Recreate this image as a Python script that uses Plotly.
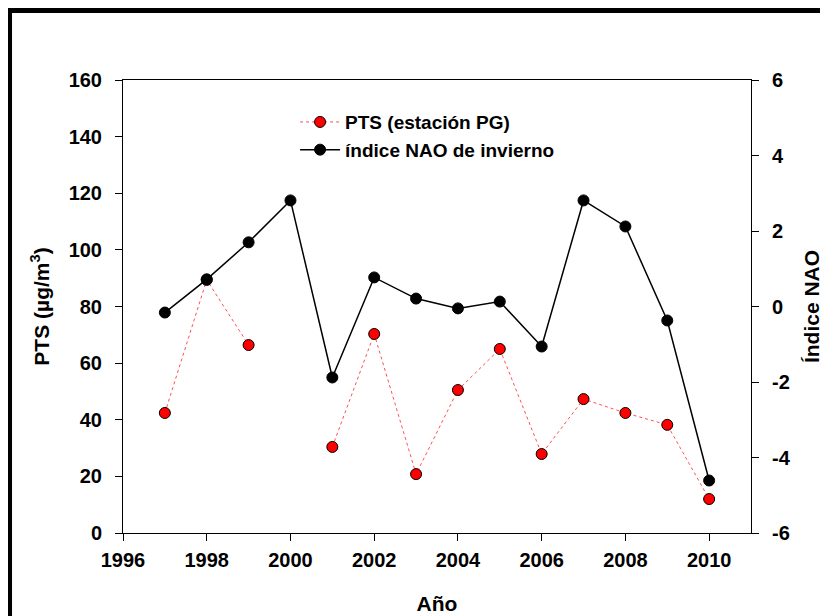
import plotly.graph_objects as go

years = [1997, 1998, 1999, 2000, 2001, 2002, 2003, 2004, 2005, 2006, 2007, 2008, 2009, 2010]
pts_pg = [42.4, 89.4, 66.4, None, 30.4, 70.3, 20.8, 50.5, 65.0, 27.9, 47.3, 42.4, 38.2, 12.0]
nao_winter = [-0.16, 0.72, 1.70, 2.81, -1.88, 0.77, 0.21, -0.05, 0.13, -1.06, 2.81, 2.12, -0.37, -4.61]
nao_ticks = [-6, -4, -2, 0, 2, 4, 6]
nao_ticktext = [str(t) for t in nao_ticks]  # hyphen minus, as in the original

FONT = "Liberation Sans, Arial, sans-serif"

fig = go.Figure()
fig.add_trace(go.Scatter(
    x=years, y=pts_pg, name="PTS (estación PG)",
    mode="lines+markers", connectgaps=False,
    line=dict(color="#ff5050", width=1, dash="dot"),
    marker=dict(color="#ff0000", size=11, line=dict(color="black", width=1)),
))
fig.add_trace(go.Scatter(
    x=years, y=nao_winter, name="índice NAO de invierno", yaxis="y2",
    mode="lines+markers",
    line=dict(color="black", width=1.5),
    marker=dict(color="black", size=11, line=dict(color="black", width=1)),
))

axis_common = dict(
    showline=True, linecolor="black", linewidth=1,
    ticks="outside", ticklen=7, tickcolor="black",
    showgrid=False, zeroline=False,
    tickfont=dict(family=FONT, size=20, color="black", weight="bold"),
)
title_font = dict(family=FONT, size=21, color="black", weight="bold")

fig.update_layout(
    width=828, height=616,
    margin=dict(l=115, r=85, t=72, b=91),
    paper_bgcolor="white", plot_bgcolor="white",
    font=dict(family=FONT, color="black"),
    xaxis=dict(
        range=[1996, 2011], tickmode="array", tickvals=list(range(1996, 2011, 2)),
        mirror=True, ticklabelstandoff=2,
        title=dict(text="Año", font=title_font, standoff=26),
        **axis_common,
    ),
    yaxis=dict(
        range=[0, 160], dtick=20, ticklabelstandoff=9,
        title=dict(text="PTS (µg/m<sup>3</sup>)", font=title_font, standoff=13),
        **axis_common,
    ),
    yaxis2=dict(
        range=[-6, 6], tickmode="array", tickvals=nao_ticks, ticktext=nao_ticktext,
        overlaying="y", side="right", ticklabelstandoff=9,
        title=dict(text="Índice NAO", font=title_font, standoff=14),
        **axis_common,
    ),
    legend=dict(
        x=0.274, y=0.949, xanchor="left", yanchor="top",
        bgcolor="rgba(0,0,0,0)", itemwidth=40,
        font=dict(family=FONT, size=19, color="black", weight="bold"),
        tracegroupgap=0,
    ),
    showlegend=True,
    shapes=[
        dict(type="line", xref="paper", yref="paper",
             x0=-0.1807, x1=-0.1807, y0=1.1545, y1=-0.25,
             line=dict(color="black", width=5)),
        dict(type="line", xref="paper", yref="paper",
             x0=-0.184, x1=1.2, y0=1.1534, y1=1.1534,
             line=dict(color="black", width=5)),
    ],
)

fig.write_html("out.html")
